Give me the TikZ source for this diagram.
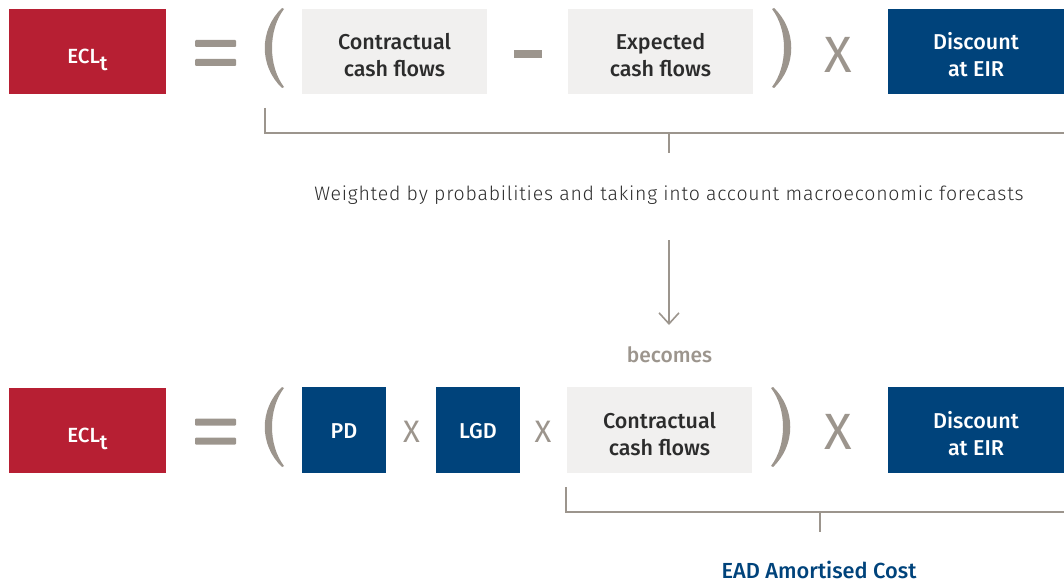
\documentclass[tikz,border=0pt]{standalone}
\usepackage{fontspec}
\setmainfont{Fira Sans}[BoldFont={Fira Sans Medium}]
\newfontfamily\lightfont{Fira Sans Light}[LetterSpace=4]
\usetikzlibrary{arrows.meta}

\definecolor{eclred}{HTML}{B71F33}
\definecolor{eirblue}{HTML}{00437B}
\definecolor{opgrey}{HTML}{9C958D}
\definecolor{boxgrey}{HTML}{F1F0EF}
\definecolor{txtdark}{HTML}{2C2C2C}

\tikzset{
  base/.style={inner sep=0pt, align=center, minimum height=85pt,
    font=\fontsize{21.5}{27}\selectfont\bfseries},
  twoline/.style={text height=56pt, text depth=5pt},
  oneline/.style={text height=18pt, text depth=2pt},
  ecltext/.style={text height=26pt, text depth=2pt},
  redbox/.style={base, fill=eclred, text=white},
  bluebox/.style={base, fill=eirblue, text=white},
  greybox/.style={base, fill=boxgrey, text=txtdark},
  bigop/.style={text=opgrey, inner sep=0pt, font=\fontsize{51}{51}\selectfont},
  smallop/.style={text=opgrey, inner sep=0pt, font=\fontsize{31}{31}\selectfont},
  bracket/.style={draw=opgrey, line width=2pt},
  lparen/.pic={\fill[opgrey] (17,0) .. controls (-6,22) and (-6,58) .. (17,80)
      -- (19,79) .. controls (3,58) and (3,22) .. (19,1) -- cycle;},
  rparen/.pic={\begin{scope}[xscale=-1]
      \fill[opgrey] (17,0) .. controls (-6,22) and (-6,58) .. (17,80)
      -- (19,79) .. controls (3,58) and (3,22) .. (19,1) -- cycle;
    \end{scope}},
  equals/.pic={\fill[opgrey, rounded corners=1pt] (0,0) rectangle (41,7);
    \fill[opgrey, rounded corners=1pt] (0,19) rectangle (41,26);},
}
\newcommand{\ecllabel}{\fontsize{20.5}{21}\selectfont ECL\raisebox{-7pt}{t}}

\begin{document}
\begin{tikzpicture}[x=1pt, y=-1pt]
\useasboundingbox (0,0) rectangle (1064,583);

% ---- first formula ----
\node[redbox, ecltext, minimum width=157pt] (ecl1) at (87.5,51.5) {\ecllabel};
\pic at (195,40) {equals};
\pic at (265,8) {lparen};
\node[greybox, twoline, minimum width=185pt] (ccf1) at (394.5,51.5) {Contractual\\cash flows};
\fill[opgrey] (514,50) rectangle (542,58);
\node[greybox, twoline, minimum width=185pt] (ecf1) at (660.5,51.5) {Expected\\cash flows};
\pic at (791,8) {rparen};
\node[bigop] (x1) at (838.5,54.5) {X};
\node[bluebox, twoline, minimum width=176pt] (eir1) at (976,51.5) {Discount\\at EIR};

% bracket under the first formula
\coordinate (b1l) at (265,108);
\coordinate (b1c) at (669,132.5);
\coordinate (b1t) at (669,153);
\draw[bracket] (b1l) |- (1064,132.5);
\draw[bracket] (b1c) -- (b1t);

\node[anchor=base, inner sep=0pt, text=txtdark, font=\lightfont\fontsize{19.5}{20}\selectfont]
  (weighted) at (669,200) {Weighted by probabilities and taking into account macroeconomic forecasts};

\coordinate (arrs) at (669,240);
\coordinate (arre) at (669,325);
\draw[draw=opgrey, line width=2pt, -{Straight Barb[length=11pt, width=20pt, line width=1.6pt]}] (arrs) -- (arre);

\node[anchor=base, inner sep=0pt, text=opgrey, font=\fontsize{21}{21}\selectfont\bfseries]
  (becomes) at (669.5,362) {becomes};

% ---- second formula ----
\node[redbox, ecltext, minimum width=157pt] (ecl2) at (87.5,430) {\ecllabel};
\pic at (195,418.5) {equals};
\pic at (265,387) {lparen};
\node[bluebox, oneline, minimum width=84pt, minimum height=86pt] (pd) at (344,430) {PD};
\node[smallop] (x2) at (411.5,431.5) {X};
\node[bluebox, oneline, minimum width=84pt, minimum height=86pt] (lgd) at (478,430) {LGD};
\node[smallop] (x3) at (543,431.5) {X};
\node[greybox, twoline, minimum width=185pt, minimum height=86pt] (ccf2) at (659.5,430) {Contractual\\cash flows};
\pic at (790,387) {rparen};
\node[bigop] (x4) at (838.5,432) {X};
\node[bluebox, twoline, minimum width=176pt, minimum height=86pt] (eir2) at (976,430) {Discount\\at EIR};

% bracket under the exposure terms
\coordinate (b2l) at (566,487);
\coordinate (b2c) at (820,511.5);
\coordinate (b2t) at (820,532);
\draw[bracket] (b2l) |- (1064,511.5);
\draw[bracket] (b2c) -- (b2t);

\node[anchor=base, inner sep=0pt, text=eirblue, font=\fontsize{21.8}{22}\selectfont\bfseries]
  (ead) at (819,578) {EAD Amortised Cost};
\end{tikzpicture}
\end{document}
